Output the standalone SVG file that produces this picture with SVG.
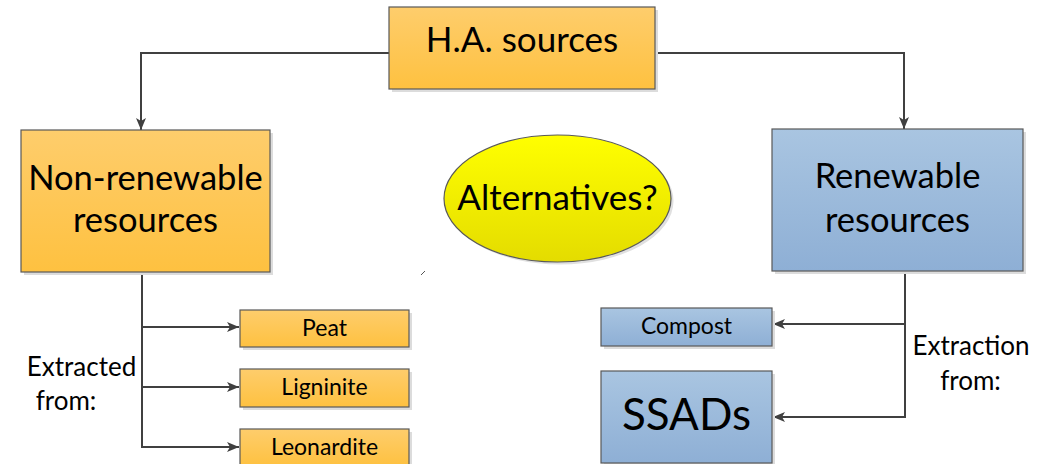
<svg xmlns="http://www.w3.org/2000/svg" width="1053" height="464" viewBox="0 0 1053 464">
<style>
.lbl{font-family:Lato,"Liberation Sans",sans-serif;fill:#000;text-anchor:middle}
.box{stroke:#595959;stroke-width:1.2}
.orange{fill:url(#og)}
.blue{fill:url(#bg)}
.shadow{fill:#dcdcdc}
.conn{fill:none;stroke:#404040;stroke-width:2}
</style>
<defs>
<linearGradient id="og" x1="0" y1="0" x2="0" y2="1"><stop offset="0" stop-color="#fecd6c"/><stop offset="1" stop-color="#fec140"/></linearGradient>
<linearGradient id="bg" x1="0" y1="0" x2="0" y2="1"><stop offset="0" stop-color="#a9c5e1"/><stop offset="1" stop-color="#8eafd5"/></linearGradient>
<linearGradient id="yg" x1="0" y1="0" x2="0" y2="1"><stop offset="0" stop-color="#ffff00"/><stop offset="1" stop-color="#e4dc00"/></linearGradient>
<marker id="arr" viewBox="0 0 12 10" refX="12" refY="5" markerWidth="12" markerHeight="10" markerUnits="userSpaceOnUse" orient="auto"><path d="M0,0 L12,5 L0,10 L3,5 Z" fill="#404040"/></marker>
</defs>
<rect width="1053" height="464" fill="#fff"/>
<g id="connectors">
<polyline class="conn" points="389,53 141,53 141,130" marker-end="url(#arr)"/>
<polyline class="conn" points="655,53 904,53 904,129" marker-end="url(#arr)"/>
<polyline class="conn" points="142,272 142,447 239,447" marker-end="url(#arr)"/>
<line class="conn" x1="142" y1="327" x2="239" y2="327" marker-end="url(#arr)"/>
<line class="conn" x1="142" y1="387" x2="239" y2="387" marker-end="url(#arr)"/>
<polyline class="conn" points="905,271 905,417 773,417" marker-end="url(#arr)"/>
<line class="conn" x1="905" y1="324" x2="773" y2="324" marker-end="url(#arr)"/>
<line x1="421" y1="275" x2="425" y2="271" stroke="#555" stroke-width="1"/>
</g>
<g id="ha-sources">
<rect class="shadow" x="392" y="10" width="266" height="82"/>
<rect class="box orange" x="389" y="7" width="266" height="82"/>
<text class="lbl" x="522" y="52" font-size="35">H.A. sources</text>
</g>
<g id="non-renewable">
<rect class="shadow" x="24" y="133" width="249" height="142"/>
<rect class="box orange" x="21" y="130" width="249" height="142"/>
<text class="lbl" x="145.5" y="190" font-size="34.5">Non-renewable</text>
<text class="lbl" x="145.5" y="232" font-size="34.5">resources</text>
</g>
<g id="renewable">
<rect class="shadow" x="775" y="132" width="251" height="142"/>
<rect class="box blue" x="772" y="129" width="251" height="142"/>
<text class="lbl" x="897.5" y="188" font-size="34.5">Renewable</text>
<text class="lbl" x="897.5" y="232" font-size="34.5">resources</text>
</g>
<g id="alternatives">
<ellipse cx="560" cy="201" rx="113.5" ry="63.5" fill="#e0e0e0"/>
<ellipse cx="557.5" cy="198.5" rx="113.5" ry="63.5" fill="url(#yg)" stroke="#595959" stroke-width="1.2"/>
<text class="lbl" x="557.5" y="210" font-size="35">Alternatives?</text>
</g>
<g id="peat">
<rect class="shadow" x="243" y="313" width="169" height="37"/>
<rect class="box orange" x="240" y="310" width="169" height="37"/>
<text class="lbl" x="324.5" y="336" font-size="23">Peat</text>
</g>
<g id="ligninite">
<rect class="shadow" x="243" y="372" width="169" height="38"/>
<rect class="box orange" x="240" y="369" width="169" height="38"/>
<text class="lbl" x="324.5" y="395" font-size="23">Ligninite</text>
</g>
<g id="leonardite">
<rect class="shadow" x="243" y="432" width="169" height="37"/>
<rect class="box orange" x="240" y="429" width="169" height="37"/>
<text class="lbl" x="324.5" y="455" font-size="23">Leonardite</text>
</g>
<g id="extracted-label">
<text class="lbl" x="81.5" y="376" font-size="26">Extracted</text>
<text class="lbl" x="66" y="410" font-size="26">from:</text>
</g>
<g id="compost">
<rect class="shadow" x="604" y="311" width="171" height="38"/>
<rect class="box blue" x="601" y="308" width="171" height="38"/>
<text class="lbl" x="686.5" y="334" font-size="23">Compost</text>
</g>
<g id="ssads">
<rect class="shadow" x="604" y="374" width="171" height="92"/>
<rect class="box blue" x="601" y="371" width="171" height="92"/>
<text class="lbl" x="686.5" y="430" font-size="44">SSADs</text>
</g>
<g id="extraction-label">
<text class="lbl" x="971" y="355" font-size="26">Extraction</text>
<text class="lbl" x="970.5" y="390" font-size="26">from:</text>
</g>
</svg>
